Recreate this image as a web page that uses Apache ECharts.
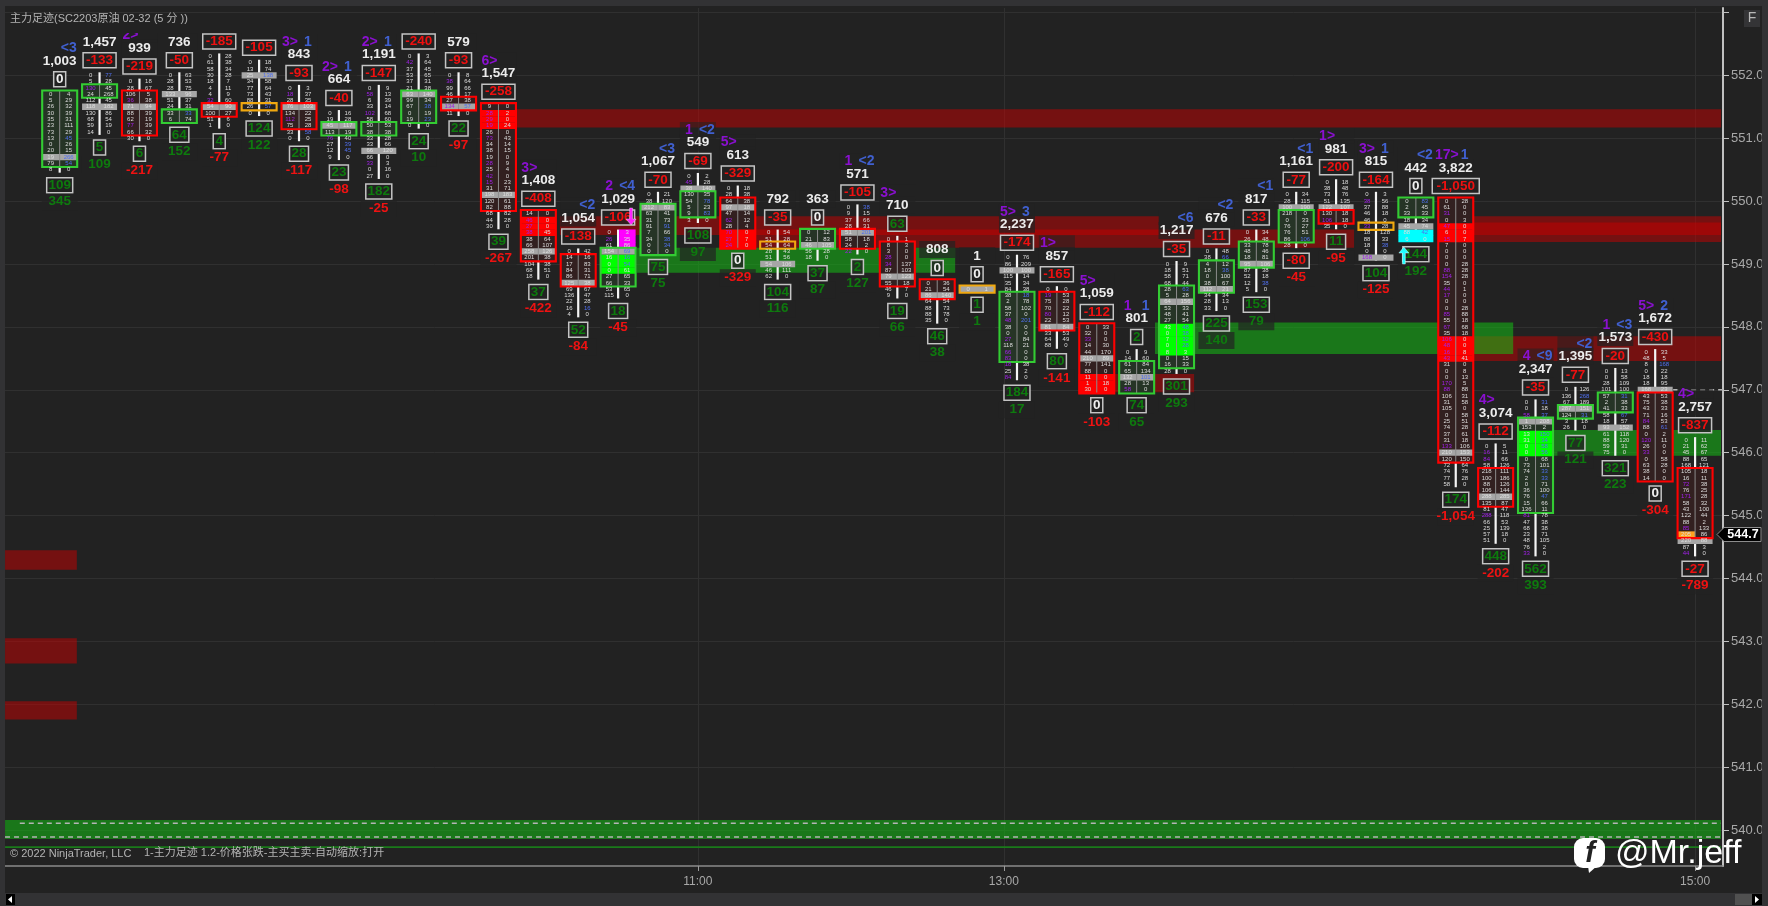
<!DOCTYPE html>
<html><head><meta charset="utf-8">
<style>html,body{margin:0;padding:0;background:#222}#c{width:1768px;height:906px}</style>
<script src="https://cdn.jsdelivr.net/npm/echarts@6/dist/echarts.min.js"></script>
</head><body><div id="c"></div>
<script>
const priceTicks=[540,541,542,543,544,545,546,547,548,549,550,551,552,553];
const timeTicks=[16,23.67,41];
const timeLabels=['11:00','13:00','15:00'];
const barHigh=[551.7,552.0,551.9,552.0,552.3,552.2,551.8,551.4,551.8,552.3,552.0,551.5,549.8,549.2,549.5,550.1,550.4,550.2,549.5,549.5,549.9,549.4,548.7,548.6,549.1,548.6,548.0,547.6,549.0,549.2,549.5,550.1,550.3,550.1,550.0,550.0,546.1,546.8,547.0,547.3,547.6,546.2];
const volumes=[1003,1457,939,736,null,812,843,664,1191,null,579,1547,1408,1054,1029,1067,549,613,792,363,571,710,808,1,2237,857,1059,801,1217,676,817,1161,981,815,442,3822,3074,2347,1395,1573,1672,2757];
const topDelta=[0,-133,-219,-50,-185,-105,-93,-40,-147,-240,-93,-258,-408,-138,-106,-70,-69,-329,-35,0,-105,63,0,0,-174,-165,-112,2,-35,-11,-33,-77,-200,-164,0,-1050,-112,-35,-77,-20,-430,-837];
const bottomDelta=[109,5,6,64,4,124,28,23,182,24,22,39,37,52,18,75,108,0,104,37,2,19,46,1,184,80,0,74,301,225,153,-80,11,104,144,174,448,562,77,321,0,-27];
const cumDelta=[345,109,-217,152,-77,122,-117,-98,-25,10,-97,-267,-422,-84,-45,75,97,-329,116,87,127,66,38,1,17,-141,-103,65,293,140,79,-45,-95,-125,192,-1054,-202,393,121,223,-304,-789];
const sellLabel=['','','2>','','','','3>','2>','2>','','','6>','3>','','2','','1','5>','','','1','3>','','','5>','1>','5>','1','','','','','1>','3>','','17>','4>','4','','1','5>','4>'];
const buyLabel=['<3','','','','','','1','1','1','','','','','<2','<4','<3','<2','','','','<2','','','','3','','','1','<6','<2','<1','<1','','1','<2','1','','<9','<2','<3','2',''];
const pocRow=[10,5,4,3,8,2,3,2,10,6,5,14,6,5,3,2,2,3,5,2,4,6,2,0,2,6,5,4,6,6,5,2,4,10,4,40,8,3,3,9,6,16];
const boxFrom=[0,2,2,6,8,7,3,2,6,6,4,0,0,1,3,2,3,2,2,0,4,1,0,0,6,1,0,2,4,2,2,3,5,5,0,0,4,3,3,4,7,5];
const boxTo=[11,3,8,7,9,7,6,3,7,10,5,16,7,5,8,9,6,9,2,2,6,7,2,0,16,6,10,6,16,6,5,7,6,5,2,41,9,17,4,6,20,15];
const boxKind=('ggrgrorggg'+'rrrrgggrog'+'rrrogrrggg'+'ggrogrrggg'+'rr').split('');
const sells=[
[0,5,26,30,35,23,73,13,0,20,19,79,8],
[0,5,130,24,112,118,130,68,59,14],
[0,28,106,36,71,88,62,77,66,30],
[0,28,28,133,51,24,33,6],
[0,61,58,30,18,4,4,32,54,100,51,1],
[0,13,25,34,77,73,88,26,0],
[0,18,28,76,134,112,75,33,0],
[0,19,45,113,76,27,12,9],
[0,58,6,33,102,58,50,38,33,33,66,66,33,0,27],
[0,42,37,53,37,21,63,99,67,0,19,0],
[0,38,99,46,27,134,11],
[9,28,29,19,26,73,34,38,19,28,25,42,15,31,198,120,82,68,44,30],
[14,46,27,38,38,66,258,201,104,68,18],
[0,14,17,84,86,125,69,136,22,16,4],
[0,26,61,154,16,0,0,27,66,53,115],
[0,38,212,63,31,91,7,34,0,0],
[0,45,38,130,54,5,9,3],
[0,28,64,97,47,62,28,70,27,24],
[0,51,54,28,51,54,46,62],
[0,21,46,56,18],
[0,9,37,28,51,58,24,22],
[0,8,3,28,34,87,79,55,46,9],
[0,21,86,64,88,88,35],
[0],
[0,86,100,115,35,84,38,2,58,37,48,38,0,27,118,66,83,18,25,84],
[0,19,75,70,80,22,81,33,64,88],
[0,32,33,14,44,210,77,88,11,1,30],
[0,14,61,65,132,28,58],
[0,18,58,68,28,5,64,53,48,27,43,0,7,0,8,0,16,28],
[0,38,4,18,0,38,112,34,28,33],
[0,26,33,48,18,95,87,52,12,5],
[0,28,100,218,0,76,76,86,28],
[0,38,73,51,122,130,106,35],
[0,38,37,46,46,33,18,88,18,0,168],
[0,2,33,18,45,88,6],
[0,61,31,0,47,6,15,7,0,0,0,88,154,35,44,17,0,0,85,55,67,35,106,48,16,43,31,0,0,170,88,106,31,105,0,25,74,37,31,133,210,120,72,74,77,58],
[0,16,84,58,218,100,88,106,288,135,81,288,66,25,57,51],
[0,0,58,1,153,13,31,0,0,0,73,74,2,0,36,76,15,136,81,47,68,23,48,76,33],
[0,136,67,287,124,3,26],
[0,0,28,101,57,2,41,58,18,93,61,88,59,75],
[0,48,8,0,18,18,168,43,75,43,71,84,88,0,120,26,33,0,63,38,14],
[0,21,45,88,168,105,16,72,76,171,58,43,122,88,85,205,220,87,44]];
const buys=[
[4,29,32,39,31,111,29,45,26,15,266,54,0],
[77,28,45,268,45,182,86,54,19,0],
[18,67,5,38,94,39,19,39,32,0],
[63,53,75,96,37,31,33,74],
[28,38,34,28,7,11,9,60,90,27,6,0],
[18,74,138,58,64,43,31,57,0],
[3,37,35,103,22,25,28,58,0],
[16,28,117,19,40,39,45,0],
[9,13,39,14,68,60,53,38,28,66,120,0,3,16,0],
[3,64,45,65,31,38,140,34,38,19,23,0],
[8,64,66,17,38,57,0],
[0,2,0,24,0,43,14,15,0,9,4,0,23,71,183,61,88,82,28,0],
[0,0,0,45,64,107,126,38,38,51,0],
[42,16,83,31,71,38,67,47,28,16,0],
[3,35,86,69,16,54,61,65,33,65,0],
[21,120,83,41,73,91,66,38,34,0],
[2,28,140,35,78,23,83,0],
[18,38,38,18,14,12,4,0,7,0],
[54,28,64,43,56,106,111,0],
[12,83,105,28,0],
[38,15,66,31,201,18,2,0],
[1,3,0,0,137,103,123,18,7,0],
[36,54,140,54,73,78,0],
[1],
[76,209,100,14,34,38,18,78,102,0,201,0,0,84,21,0,0,38,2,0],
[0,53,28,22,12,53,84,53,49,0],
[33,0,0,30,170,89,141,0,0,18,0],
[9,60,84,134,101,13,0],
[9,51,71,44,63,28,156,33,41,54,48,38,32,28,3,15,33,0],
[48,66,12,38,100,67,21,34,13,0],
[34,48,78,46,81,106,38,18,38,0],
[34,115,190,0,33,27,51,106,0],
[18,48,76,135,107,18,18,0],
[3,56,88,18,0,28,128,33,38,0,0],
[83,45,33,34,74,42,0],
[28,0,0,3,0,0,7,0,0,0,28,28,28,0,1,0,0,28,88,18,68,18,0,0,8,41,0,8,13,5,88,31,58,0,58,51,28,61,18,106,153,150,64,76,28,0],
[5,11,66,126,111,186,126,144,285,87,47,118,53,139,18,0],
[31,18,37,208,2,150,34,58,56,68,101,33,33,71,100,47,66,11,78,38,38,71,105,2,0],
[126,268,189,151,31,18,0],
[13,58,109,100,31,38,33,67,57,152,118,120,31,0],
[33,5,168,22,18,95,23,53,38,33,16,53,61,2,11,0,0,58,28,0,0],
[11,62,67,65,121,18,11,38,25,28,32,100,44,2,133,86,88,3,0]];
const brightRows=[[11,1,3,'r'],[12,1,3,'r'],[14,0,2,'m'],[14,4,6,'l'],[17,7,9,'r'],[26,8,10,'r'],[28,10,14,'l'],[34,5,6,'c'],[35,4,6,'r'],[35,22,25,'r'],[37,5,8,'l'],[41,15,15,'o']];
const redZones=[[10.54,41.65,551.46,551.17],[12.54,27.56,549.76,549.46],[16.55,32.45,549.55,549.26],[34.6,41.65,549.76,549.46],[34.6,41.65,549.66,549.35],[34.6,41.65,547.85,547.46],[25.53,28.44,547.25,546.96],[-1.37,0.43,544.45,544.14],[-1.37,0.43,543.05,542.65],[-1.37,0.43,542.05,541.76]];
const greenZones=[[14.47,22.45,549.26,548.86],[27.46,36.44,548.07,547.57],[36.54,41.65,546.36,545.95],[-1.37,41.65,540.16,539.86]];
const dashLevels=[[-1,41.65,540.11],[-1.37,41.65,539.89],[40.45,41.7,547.0]];
const solidLevels=[[-1.37,41.65,539.73]];
const arrows=[[14,549.62,'down','#ff20ff'],[34,549.27,'up','#20ffff']];
const lastPrice=544.7;

const FONT='"Liberation Sans","Noto Sans CJK SC",sans-serif';
const chart=echarts.init(document.getElementById('c'),null,{renderer:'canvas'});
const BOX={g:['#33cc33','#263426'],r:['#ff0000','#322020'],o:['#f0a810',null]};
const BRIGHT={r:'#ff0000',l:'#00ff00',m:'#ff00ff',c:'#00ffff',o:'#ffa020'};
const fmt=v=>v==null?'':Math.abs(v).toLocaleString('en-US');
const signed=v=>(v<0?'-':'')+fmt(v);
function label(x,y,t,fill,font,align){return{type:'text',style:{x,y,text:t,fill,font,textAlign:align||'center',textVerticalAlign:'middle'}};}
function rect(x,y,w,h,fill,stroke,lw){return{type:'rect',shape:{x,y,width:w,height:h},style:{fill:fill||'none',stroke:stroke||null,lineWidth:lw||0}};}
function valueBox(cx,cy,v){
  const t=signed(v),w=t.length*7+5;
  const col=v<0?'#ee1010':v>0?'#0d7a0d':'#f0f0f0';
  return [rect(cx-w/2,cy-7.5,w,15,'rgba(34,34,34,0.8)','#c4c4c4',1.5),label(cx,cy,t,col,'bold 13.5px '+FONT)];
}
function renderBar(params,api){
  const i=params.dataIndex,hi=barHigh[i],L=sells[i],R=buys[i],n=L.length;
  const cx=api.coord([i,hi])[0],rowH=Math.abs(api.size([0,0.1])[1]);
  const ry=r=>api.coord([i,hi-r*0.1])[1];
  const yF=ry(0),yL=ry(n-1),hw=17.5,kids=[];
  kids.push(rect(cx-1.1,yF-3,2.2,yL-yF+6,'#f4f4f4'));
  const k=BOX[boxKind[i]],bt=ry(boxFrom[i])-rowH/2-0.5,bb=ry(boxTo[i])+rowH/2+0.5;
  if(k[1])kids.push(rect(cx-hw,bt,hw*2,bb-bt,k[1]));
  brightRows.forEach(b=>{ if(b[0]!==i)return;
    for(let r=b[1];r<=b[2];r++){
      const yy=ry(r)-rowH/2;
      if(b[3]==='m')kids.push(rect(cx+1,yy,hw-1,rowH+0.3,BRIGHT.m));
      else if(b[3]==='o')kids.push(rect(cx-hw,yy,hw,rowH+0.3,BRIGHT.o));
      else kids.push(rect(cx-hw,yy,hw*2,rowH+0.3,BRIGHT[b[3]]));
    }});
  kids.push(rect(cx-hw,ry(pocRow[i])-rowH/2,hw*2,rowH,'#a6a6a6'));
  if(k[1])kids.push(rect(cx-0.5,bt,1,bb-bt,'#8c8c8c'));
  kids.push(rect(cx-hw,bt,hw*2,bb-bt,null,k[0],2.1));
  for(let r=0;r<n;r++){
    const y=ry(r);
    const lp=r>0&&L[r]>=15&&L[r]>3*R[r-1];
    const rp=r<n-1&&R[r]>=15&&R[r]>3*L[r+1];
    kids.push(label(cx-9,y,String(L[r]),lp?'#a020e8':'#dcdcdc','6px '+FONT));
    kids.push(label(cx+9,y,String(R[r]),rp?'#5070f0':'#dcdcdc','6px '+FONT));
  }
  kids.push(...valueBox(cx,yF-15,topDelta[i]));
  if(volumes[i]!=null){
    kids.push(rect(cx-18,yF-42,36,17,'rgba(34,34,34,0.72)'));
    kids.push(label(cx,yF-33.3,fmt(volumes[i]),'#ececec','bold 13.5px '+FONT));
  }
  if(sellLabel[i]||buyLabel[i])kids.push(rect(cx-18,yF-54,36,15,'rgba(34,34,34,0.55)'));
  if(sellLabel[i])kids.push(label(cx-9,yF-46,sellLabel[i],'#8a10d0','bold 14px '+FONT));
  if(buyLabel[i])kids.push(label(cx+9,yF-46,buyLabel[i],'#4060d0','bold 14px '+FONT));
  kids.push(...valueBox(cx,yL+15.5,bottomDelta[i]));
  kids.push(rect(cx-18,yL+24,36,17,'rgba(34,34,34,0.72)'));
  kids.push(label(cx,yL+32,signed(cumDelta[i]),cumDelta[i]<0?'#ee1212':'#0e7a0e','bold 13.5px '+FONT));
  return {type:'group',children:kids,clipPath:{type:'rect',shape:{x:0,y:33,width:1768,height:873}}};
}
function zoneSeries(list,fill){
  return {type:'custom',coordinateSystem:'cartesian2d',silent:true,z:1,data:list,
    renderItem(p,api){
      const a=api.coord([api.value(0),api.value(2)]),b=api.coord([api.value(1),api.value(3)]);
      return {type:'rect',shape:{x:a[0],y:a[1],width:b[0]-a[0],height:b[1]-a[1]},style:{fill}};
    }};
}
function levelSeries(list,stroke,dash,lw){
  return {type:'custom',coordinateSystem:'cartesian2d',silent:true,z:2,data:list,
    renderItem(p,api){
      const a=api.coord([api.value(0),api.value(2)]),b=api.coord([api.value(1),api.value(2)]);
      return {type:'line',shape:{x1:a[0],y1:a[1],x2:b[0],y2:b[1]},style:{stroke,lineWidth:lw,lineDash:dash}};
    }};
}
const option={
  animation:false,backgroundColor:'#222222',
  grid:{left:5,right:45,top:8,bottom:40,show:false},
  xAxis:{type:'value',min:-1.371,max:41.70,position:'bottom',
    axisLine:{show:true,lineStyle:{color:'#8a8a8a',width:1.5}},
    axisTick:{show:true,length:5,lineStyle:{color:'#9a9a9a'},customValues:timeTicks},
    axisLabel:{show:true,color:'#a8a8a8',fontSize:12,fontFamily:FONT,margin:10,customValues:timeTicks,hideOverlap:false,showMinLabel:true,showMaxLabel:true,
      formatter:v=>timeLabels[timeTicks.indexOf(v)]||''},
    splitLine:{show:true,lineStyle:{color:'#303030',width:1}}},
  yAxis:{type:'value',min:539.43,max:553.07,position:'right',
    axisLine:{show:true,onZero:false,lineStyle:{color:'#c0c0c0',width:2}},
    axisTick:{show:true,length:6,lineStyle:{color:'#c0c0c0'},customValues:priceTicks},
    axisLabel:{show:true,color:'#a8a8a8',fontSize:13,fontFamily:FONT,margin:8,customValues:priceTicks,
      formatter:v=>v===553?'':v.toFixed(1)},
    splitLine:{show:true,lineStyle:{color:'#303030',width:1}}},
  series:[
    zoneSeries(redZones,'rgba(200,0,0,0.5)'),
    zoneSeries(greenZones,'rgba(20,190,20,0.55)'),
    levelSeries(dashLevels,'#b4b4b4',[5,4],1.4),
    levelSeries(solidLevels,'#1a7a1a',null,1.6),
    {type:'custom',coordinateSystem:'cartesian2d',silent:true,z:5,
      data:barHigh.map((h,i)=>[i,h]),renderItem:renderBar},
    {type:'custom',coordinateSystem:'cartesian2d',silent:true,z:6,data:arrows,
      dimensions:['bar','price'],
      renderItem(p,api){
        const a=arrows[p.dataIndex],c=api.coord([a[0],a[1]]);
        const dx=a[2]==='down'?13:-12,x=c[0]+dx,y=c[1],d=a[2]==='down'?-1:1;
        return {type:'polygon',shape:{points:[[x,y],[x+5,y+d*6],[x+1.5,y+d*6],[x+1.5,y+d*17],[x-1.5,y+d*17],[x-1.5,y+d*6],[x-5,y+d*6]]},style:{fill:a[3],stroke:'#ffffff',lineWidth:0.4}};
      }},
    {type:'custom',coordinateSystem:'cartesian2d',silent:true,z:7,data:[[41.7,lastPrice]],
      renderItem(p,api){
        const c=api.coord([api.value(0),api.value(1)]),x=c[0],y=c[1];
        return {type:'group',children:[
          {type:'polygon',shape:{points:[[x-6,y],[x+1,y-7],[x+38,y-7],[x+38,y+7],[x+1,y+7]]},style:{fill:'#000',stroke:'#8c8c8c',lineWidth:1}},
          label(x+20,y+0.5,lastPrice.toFixed(1),'#ffffff','bold 12.5px '+FONT)]};
      }}
  ],
  graphic:[
    {type:'rect',silent:true,z:20,shape:{x:0,y:0,width:1768,height:6},style:{fill:'#323234'}},
    {type:'rect',silent:true,z:20,shape:{x:0,y:0,width:5,height:906},style:{fill:'#323234'}},
    {type:'rect',silent:true,z:20,shape:{x:0,y:893,width:1768,height:13},style:{fill:'#323234'}},
    {type:'rect',silent:true,z:20,shape:{x:1762,y:0,width:6,height:906},style:{fill:'#323234'}},
    {type:'rect',silent:true,z:21,shape:{x:6,y:894,width:9,height:11},style:{fill:'#000'}},
    {type:'polygon',silent:true,z:22,shape:{points:[[8,899.5],[12,896],[12,903]]},style:{fill:'#fff'}},
    {type:'rect',silent:true,z:21,shape:{x:1735,y:894,width:17,height:11},style:{fill:'#505050'}},
    {type:'rect',silent:true,z:21,shape:{x:1752,y:894,width:10,height:11},style:{fill:'#000'}},
    {type:'polygon',silent:true,z:22,shape:{points:[[1759,899.5],[1755,896],[1755,903]]},style:{fill:'#fff'}},
    {type:'rect',silent:true,z:21,shape:{x:1744,y:10,width:16,height:17},style:{fill:'#343436'}},
    {type:'text',silent:true,z:22,style:{x:1752,y:18.5,text:'F',fill:'#b8b8b8',font:'14px '+FONT,textAlign:'center',textVerticalAlign:'middle'}},
    {type:'text',silent:true,z:22,style:{x:10,y:18.5,text:'主力足迹(SC2203原油 02-32 (5 分 ))',fill:'#b4b4b4',font:'11px '+FONT,textVerticalAlign:'middle'}},
    {type:'text',silent:true,z:22,style:{x:10,y:853.5,text:'© 2022 NinjaTrader, LLC',fill:'#b4b4b4',font:'11px '+FONT,textVerticalAlign:'middle'}},
    {type:'text',silent:true,z:22,style:{x:144,y:853,text:'1-主力足迹 1.2-价格张跌-主买主卖-自动缩放:打开',fill:'#b4b4b4',font:'11px '+FONT,textVerticalAlign:'middle'}},
    {type:'rect',silent:true,z:30,shape:{x:1574,y:838,width:31,height:30,r:9},style:{fill:'#ffffff'}},
    {type:'polygon',silent:true,z:30,shape:{points:[[1588,866],[1597,866],[1589,873]]},style:{fill:'#ffffff'}},
    {type:'text',silent:true,z:31,style:{x:1590,y:854,text:'f',fill:'#222222',font:'italic bold 29px '+FONT,textAlign:'center',textVerticalAlign:'middle'}},
    {type:'text',silent:true,z:31,style:{x:1615,y:854,text:'@Mr.jeff',fill:'#ffffff',font:'34px '+FONT,textVerticalAlign:'middle'}}
  ]
};
chart.setOption(option);
</script></body></html>
